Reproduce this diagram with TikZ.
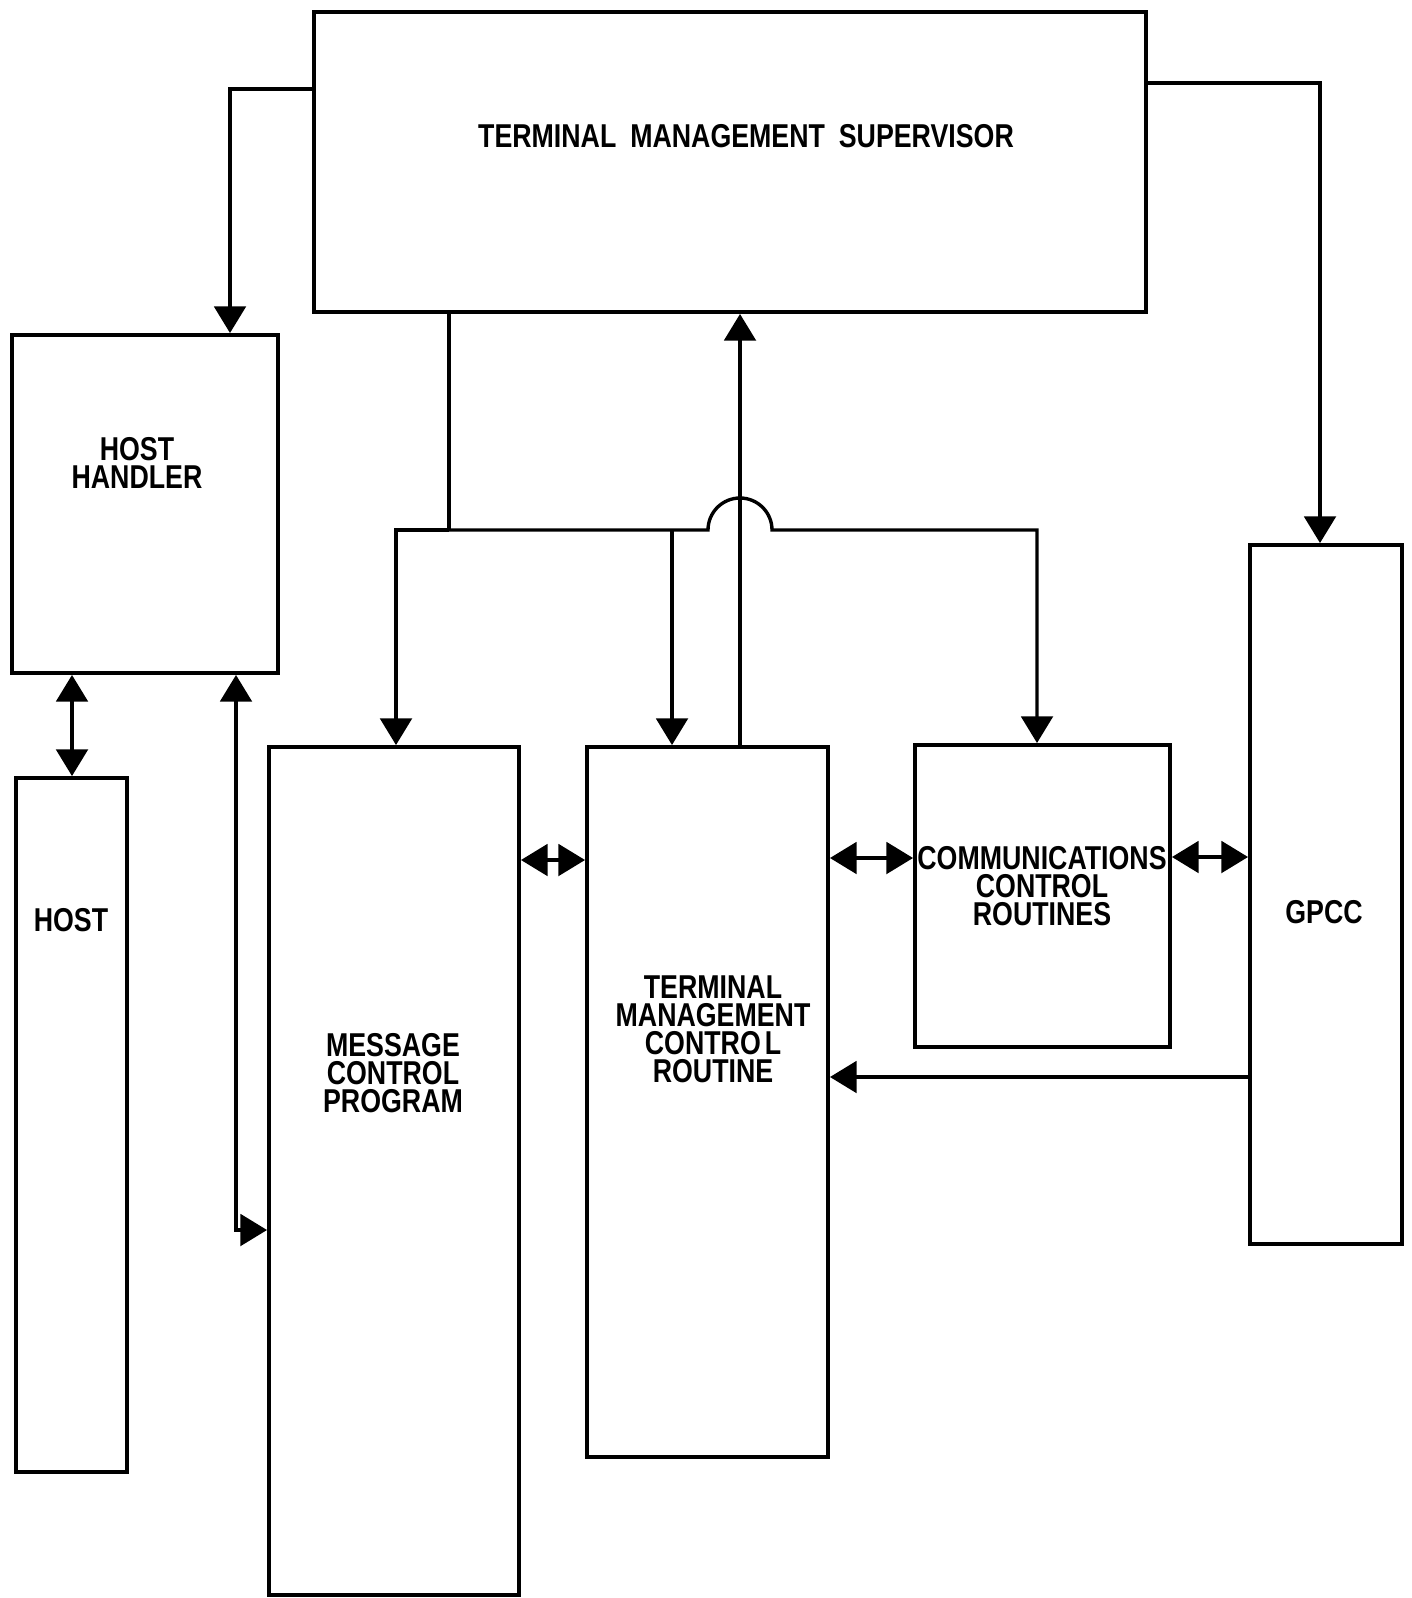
\documentclass[tikz,border=0pt]{standalone}
\usepackage{fontspec}
\newfontfamily\lblfont[FakeStretch=0.81]{Liberation Sans}
\usetikzlibrary{arrows.meta}

\begin{document}
\begin{tikzpicture}[x=0.05cm, y=-0.05cm]
\tikzset{boite/.style={draw, line width=5.6pt, inner sep=0pt}}
\tikzset{etiq/.style={font=\lblfont\bfseries\fontsize{47pt}{40pt}\selectfont, align=center, inner sep=0pt}}
\tikzset{fil/.style={line width=4.8pt}}
\tikzset{fleche/.style={fil, -{Triangle[length=38pt, width=45pt]}}}
\tikzset{dfleche/.style={fil, {Triangle[length=38pt, width=45pt]}-{Triangle[length=38pt, width=45pt]}}}
\useasboundingbox (0,0) rectangle (1411,1598);
\node[boite, minimum width=41.6cm, minimum height=15cm] (tms) at (730,162) {};
\node[etiq] (tmslbl) at (746,136) {TERMINAL\hspace{0.42em}MANAGEMENT\hspace{0.42em}SUPERVISOR};
\node[boite, minimum width=13.3cm, minimum height=16.9cm] (hh) at (145,504) {};
\node[etiq] (hhlbl) at (137,463) {HOST\\HANDLER};
\node[boite, minimum width=5.55cm, minimum height=34.7cm] (host) at (71.5,1125) {};
\node[etiq] (hostlbl) at (71,920) {HOST};
\node[boite, minimum width=12.5cm, minimum height=42.4cm] (mcp) at (394,1171) {};
\node[etiq] (mcplbl) at (393,1073) {MESSAGE\\CONTROL\\PROGRAM};
\node[boite, minimum width=12.05cm, minimum height=35.5cm] (tmcr) at (707.5,1102) {};
\node[etiq] (tmcrlbl) at (713,1029) {TERMINAL\\MANAGEMENT\\CONTRO\hspace{0.12em}L\\ROUTINE};
\node[boite, minimum width=12.75cm, minimum height=15.1cm] (ccr) at (1042.5,896) {};
\node[etiq] (ccrlbl) at (1042,886) {COMMUNICATIONS\\CONTROL\\ROUTINES};
\node[boite, minimum width=7.6cm, minimum height=34.95cm] (gpcc) at (1326,894.5) {};
\node[etiq] (gpcclbl) at (1324,912) {GPCC};
\coordinate (a1) at (230,89);
\coordinate (a2) at (1320,83);
\coordinate (b0) at (396,530);
\coordinate (b1) at (449,530);
\coordinate (b2) at (672,530);
\coordinate (saut) at (740,530);
\coordinate (b3) at (1037,530);
\coordinate (d1) at (72,720);
\coordinate (d2) at (236,1230);
\coordinate (e1) at (550,860);
\coordinate (e2) at (870,858);
\coordinate (e3) at (1210,857);
\coordinate (e4) at (1040,1077);
\draw[fleche] (tms.west |- a1) -| (hh.north -| a1);
\draw[fleche] (tms.east |- a2) -| (gpcc.north -| a2);
\draw[fil] (tms.south -| b1) -- (b1);
\draw[fleche] (b1) -- (b0) -- (mcp.north -| b0);
\draw[fleche] (b2) -- (tmcr.north -| b2);
\draw[fleche] (b1) -- ([xshift=-1.6cm]saut) arc (180:360:32) -- (b3) -- (ccr.north -| b3);
\draw[fleche] (tmcr.north -| saut) -- (tms.south -| saut);
\draw[dfleche] (hh.south -| d1) -- (host.north -| d1);
\draw[dfleche] (hh.south -| d2) -- (d2) -- (mcp.west |- d2);
\draw[dfleche] (mcp.east |- e1) -- (tmcr.west |- e1);
\draw[dfleche] (tmcr.east |- e2) -- (ccr.west |- e2);
\draw[dfleche] (ccr.east |- e3) -- (gpcc.west |- e3);
\draw[fleche] (gpcc.west |- e4) -- (tmcr.east |- e4);
\end{tikzpicture}
\end{document}
